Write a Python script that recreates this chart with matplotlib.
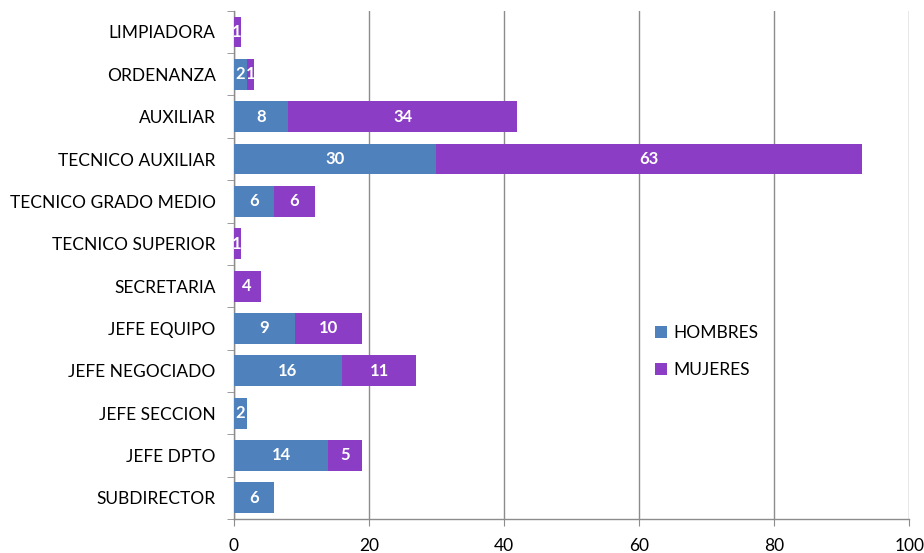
import matplotlib.pyplot as plt
import numpy as np

# datos (de arriba a abajo)
categorias = ["LIMPIADORA", "ORDENANZA", "AUXILIAR", "TECNICO AUXILIAR",
              "TECNICO GRADO MEDIO", "TECNICO SUPERIOR", "SECRETARIA",
              "JEFE EQUIPO", "JEFE NEGOCIADO", "JEFE SECCION", "JEFE DPTO",
              "SUBDIRECTOR"]
hombres = [0, 2, 8, 30, 6, 0, 0, 9, 16, 2, 14, 6]
mujeres = [1, 1, 34, 63, 6, 1, 4, 10, 11, 0, 5, 0]
x_ticks = [0, 20, 40, 60, 80, 100]

azul = "#4F81BD"
morado = "#8B3DC6"
gris = "#8C8C8C"

plt.rcParams['font.family'] = ['Lato', 'DejaVu Sans']

fig = plt.figure(figsize=(9.24, 5.53), dpi=100)
ax = fig.add_axes([0.253, 0.0615, 0.731, 0.919])

y = np.arange(len(categorias))
b1 = ax.barh(y, hombres, height=0.73, color=azul, label="HOMBRES", zorder=3)
b2 = ax.barh(y, mujeres, left=hombres, height=0.73, color=morado,
             label="MUJERES", zorder=3)

for barras, valores in [(b1, hombres), (b2, mujeres)]:
    for rect, v in zip(barras, valores):
        if v == 0:
            continue
        ax.text(rect.get_x() + rect.get_width() / 2,
                rect.get_y() + rect.get_height() / 2, str(v),
                ha="center", va="center", color="white",
                fontsize=12, fontweight="bold", zorder=4)

ax.set_ylim(len(categorias) - 0.5, -0.5)
ax.set_xlim(0, 100)
ax.set_xticks(x_ticks)
ax.set_yticks(y)
ax.set_yticklabels(categorias)
ax.set_yticks(np.arange(-0.5, len(categorias), 1), minor=True)
ax.tick_params(axis="y", which="major", length=0, pad=13, labelsize=12.5)
ax.tick_params(axis="y", which="minor", length=5, color=gris)
ax.tick_params(axis="x", length=5, color=gris, labelsize=12.5, pad=9)

ax.grid(axis="x", color=gris, linewidth=1, zorder=0)
for s in ["top", "right"]:
    ax.spines[s].set_visible(False)
for s in ["left", "bottom"]:
    ax.spines[s].set_color(gris)
    ax.spines[s].set_linewidth(1)

ax.legend(loc="center left", bbox_to_anchor=(0.6, 0.33), frameon=False,
          fontsize=12.5, handlelength=0.7, handleheight=0.7,
          labelspacing=1.2, handletextpad=0.4)

fig.savefig("out.png", dpi=100)
